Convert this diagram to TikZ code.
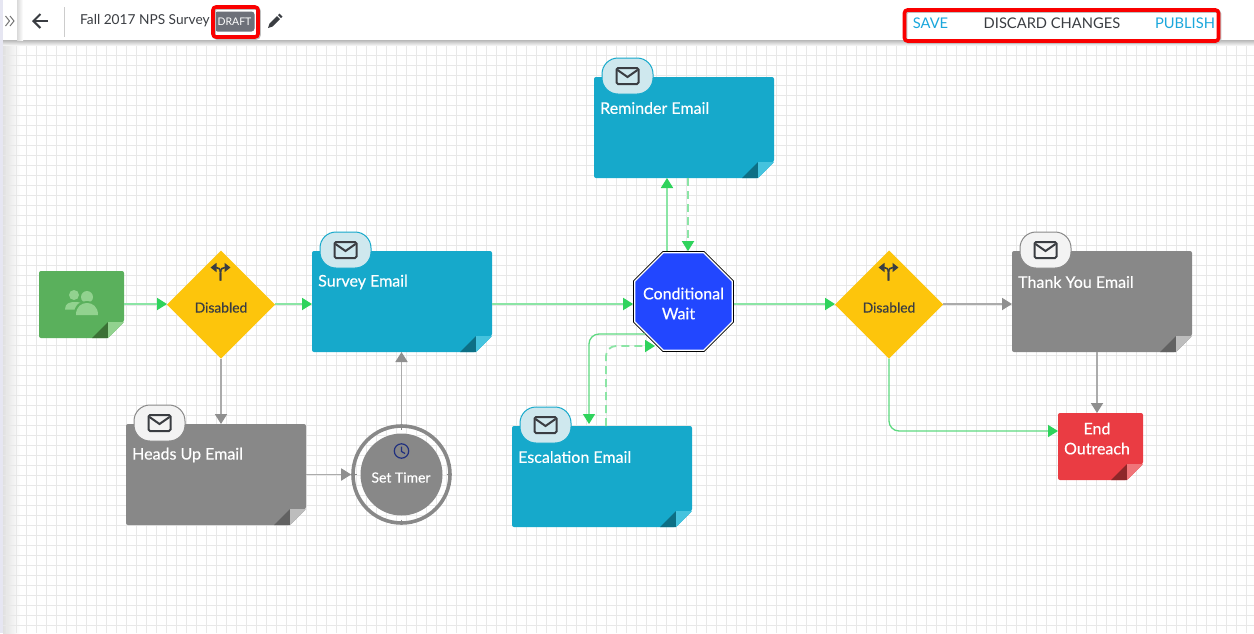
\documentclass[tikz,border=0pt]{standalone}
\usepackage{fontspec}
\setmainfont{Lato}
\newfontfamily\mediumfont[FakeBold=0.35]{Lato}
\usetikzlibrary{arrows.meta,shapes.geometric}

\definecolor{gridline}{HTML}{E8E8E8}
\definecolor{notecyan}{HTML}{16A9CB}
\definecolor{notecyandark}{HTML}{0D6F85}
\definecolor{notecyanlight}{HTML}{45C3DE}
\definecolor{notegray}{HTML}{888888}
\definecolor{notegraydark}{HTML}{626262}
\definecolor{notegraylight}{HTML}{BDBDBD}
\definecolor{notegreen}{HTML}{5AB05C}
\definecolor{notegreendark}{HTML}{3B7135}
\definecolor{notegreenlight}{HTML}{92D28F}
\definecolor{notered}{HTML}{EA3C43}
\definecolor{notereddark}{HTML}{8E2729}
\definecolor{noteredlight}{HTML}{F07579}
\definecolor{tabcyan}{HTML}{CFE8EE}
\definecolor{tabgray}{HTML}{F3F3F3}
\definecolor{gateyellow}{HTML}{FDC50C}
\definecolor{waitblue}{HTML}{2247FF}
\definecolor{clocknavy}{HTML}{20307F}
\definecolor{flowline}{HTML}{8BE5A5}
\definecolor{flowdark}{HTML}{5DD981}
\definecolor{flowtip}{HTML}{2FD35C}
\definecolor{idleline}{HTML}{ABABAB}
\definecolor{idletip}{HTML}{8F8F8F}
\definecolor{inkdark}{HTML}{3A3D42}
\definecolor{linkblue}{HTML}{1AA7DC}
\definecolor{draftgray}{HTML}{6D7079}
\definecolor{hilite}{HTML}{FA0000}

\tikzset{
    emailcard/.style={rectangle, minimum width=#1, inner sep=0pt, outer sep=0pt},
    cardtitle/.style={text=white, font=\mediumfont\fontsize{16}{16}\selectfont, anchor=west, inner sep=0pt},
    emailtab/.style={rectangle, rounded corners=16pt, minimum width=51pt, minimum height=36pt, line width=1pt},
    gate/.style={diamond, aspect=1, fill=gateyellow, minimum width=108pt, minimum height=108pt, inner sep=0pt, outer sep=0pt},
    flow/.style={line width=1.8pt, flowline, -{Triangle[length=10pt,width=12pt,color=flowtip]}},
    flowthin/.style={line width=1.3pt, flowdark, rounded corners=10pt, -{Triangle[length=10pt,width=12pt,color=flowtip]}},
    idle/.style={line width=1.8pt, idleline, -{Triangle[length=10pt,width=12pt,color=idletip]}},
    toolbar/.style={font=\fontsize{14.7}{14.7}\selectfont, inner sep=0pt},
    hilitebox/.style={draw=hilite, line width=3.6pt, rounded corners=3pt, fill=none,
        preaction={draw=black!25, transform canvas={xshift=1pt,yshift=-1pt}}},
    envelope/.pic={
        \draw[inkdark, line width=2pt, rounded corners=1.5pt] (-11,-8) rectangle (11,8);
        \draw[inkdark, line width=2pt] (-10,-6) -- (0,1) -- (10,-6);
    },
    fork/.pic={
        \draw[inkdark, line width=1.6pt, -{Triangle[length=6pt,width=9pt]}]
            (0,10) -- (0,3) .. controls (0,-2) and (-2,-3) .. (-10,-3);
        \draw[inkdark, line width=1.6pt, -{Triangle[length=6pt,width=9pt]}]
            (0,10) -- (0,3) .. controls (0,-2) and (2,-3) .. (10,-3);
    }
}

\begin{document}
\begin{tikzpicture}[x=1pt, y=-1pt]

    \useasboundingbox (0,0) rectangle (1254,633);
    \fill[white] (0,0) rectangle (1254,633);

    %----- CANVAS -----
    \shade[left color=black!12, right color=white] (3,44) rectangle (20,633);
    \fill[blue!30!gray!15] (0,0) rectangle (3,633);
    \foreach \gx in {6.7,16.7,...,1254}
        \draw[gridline, line width=1pt] (\gx,44) -- (\gx,633);
    \foreach \gy in {45.5,55.5,...,633}
        \draw[gridline, line width=1pt] (3,\gy) -- (1254,\gy);

    %----- TOP BAR -----
    \fill[white] (3,0) rectangle (1254,40);
    \shade[top color=black!28, bottom color=black!5] (3,40) rectangle (1254,45);
    \shade[left color=black!15, right color=white] (17,0) rectangle (23,40);
    \draw[black!55, line width=1pt] (5.5,16) -- (9.5,21) -- (5.5,26);
    \draw[black!55, line width=1pt] (10,16) -- (14,21) -- (10,26);
    \draw[inkdark, line width=2pt, -{Straight Barb[length=7pt,width=14pt]}] (48,21) -- (32,21);
    \draw[black!20, line width=1pt] (64,7) -- (64,37);

    \node[toolbar, anchor=west, text=inkdark, font=\fontsize{13.7}{13.7}\selectfont] (surveyname) at (80,21) {Fall 2017 NPS Survey};
    \node[fill=draftgray, text=white, rounded corners=3pt, minimum width=40pt, minimum height=20pt, inner sep=0pt, font=\fontsize{10.5}{10.5}\selectfont] (draft) at (234.5,21.5) {DRAFT};
    \node[hilitebox, minimum width=45pt, minimum height=30pt] (drafthilite) at (235.5,22) {};
    \fill[inkdark] (268,28) -- (269.5,23.5) -- (277,16) -- (280,19) -- (272.5,26.5) -- cycle;
    \fill[inkdark] (278,15) -- (279.5,13.5) -- (282.5,16.5) -- (281,18) -- cycle;

    \node[toolbar, text=linkblue] (save) at (930.5,23) {SAVE};
    \node[toolbar, text=inkdark] (discard) at (1052,23) {DISCARD CHANGES};
    \node[toolbar, text=linkblue] (publish) at (1185,23) {PUBLISH};
    \node[hilitebox, minimum width=314pt, minimum height=31pt] (actionhilite) at (1061.5,25.5) {};

    %----- NOTE CARDS WITH THE FOLDED CORNER -----
    \foreach \name/\cx/\cy/\cw/\ch/\body/\dark/\light in {
        start/81.5/304.5/85/67/notegreen/notegreendark/notegreenlight,
        reminder/684/127.5/180/101/notecyan/notecyandark/notecyanlight,
        survey/402/301.5/180/101/notecyan/notecyandark/notecyanlight,
        headsup/216/474.5/180/101/notegray/notegraydark/notegraylight,
        escalation/602/476.5/180/101/notecyan/notecyandark/notecyanlight,
        thankyou/1102/301.5/180/101/notegray/notegraydark/notegraylight,
        endcard/1100.5/446.5/85/67/notered/notereddark/noteredlight%
    } {
        \node[emailcard=\cw pt, minimum height=\ch pt] (\name) at (\cx,\cy) {};
        \fill[\body, rounded corners=2pt]
            (\name.north west) -- (\name.north east) -- ([yshift=16pt]\name.south east)
            -- ([xshift=-16pt]\name.south east) -- (\name.south west) -- cycle;
        \fill[\dark] ([xshift=-32pt]\name.south east) -- ([xshift=-16pt,yshift=16pt]\name.south east)
            -- ([xshift=-16pt]\name.south east) -- cycle;
        \fill[\light] ([xshift=-16pt,yshift=16pt]\name.south east) -- ([yshift=16pt]\name.south east)
            -- ([xshift=-16pt]\name.south east) -- cycle;
    }

    %----- TABS AND TITLES OF THE EMAIL CARDS -----
    \foreach \name/\title/\tabfill/\rim in {
        reminder/Reminder Email/tabcyan/notecyan,
        survey/Survey Email/tabcyan/notecyan,
        headsup/Heads Up Email/tabgray/notegray,
        escalation/Escalation Email/tabcyan/notecyan,
        thankyou/Thank You Email/tabgray/notegray%
    } {
        \node[emailtab, fill=\tabfill, draw=\rim] (\name-tab) at ([xshift=33.5pt,yshift=1pt]\name.north west) {};
        \pic at (\name-tab.center) {envelope};
        \node[cardtitle] (\name-title) at ([xshift=6pt,yshift=-31pt]\name.north west) {\title};
    }

    %----- PEOPLE ON THE START CARD -----
    \fill[notegreenlight] (74,295) circle (5);
    \fill[notegreenlight] (65,309.5) .. controls (65,303) and (70,302) .. (75,302) .. controls (80,302) and (85,303) .. (85,309.5) -- cycle;
    \fill[notegreen] (87,297) circle (7.5);
    \fill[notegreenlight] (87,297) circle (6);
    \fill[notegreen] (74,315) .. controls (74,304) and (81,301) .. (87,301) .. controls (93,301) and (100,304) .. (100,315) -- cycle;
    \fill[notegreenlight] (76,315) .. controls (76,306) and (82,303) .. (87,303) .. controls (92,303) and (98,306) .. (98,315) -- cycle;

    %----- GATES -----
    \foreach \name/\cx in {gatein/221, gateout/889} {
        \node[gate] (\name) at (\cx,304.5) {};
        \pic at ([yshift=34pt,xshift=-0.5pt]\name.center) {fork};
        \node[text=inkdark, font=\mediumfont\fontsize{13.8}{13.8}\selectfont, inner sep=0pt] (\name-label) at ([yshift=-3pt]\name.center) {Disabled};
    }

    %----- CONDITIONAL WAIT -----
    \node[regular polygon, regular polygon sides=8, fill=black, minimum size=109pt, inner sep=0pt, outer sep=0pt] (wait) at (683.5,301.5) {};
    \node[regular polygon, regular polygon sides=8, fill=white, minimum size=107pt, inner sep=0pt, outer sep=0pt] (waitrim) at (683.5,301.5) {};
    \node[regular polygon, regular polygon sides=8, fill=waitblue, minimum size=104pt, inner sep=0pt, outer sep=0pt] (waitface) at (683.5,301.5) {};
    \node[text=white, align=center, font=\mediumfont\fontsize{16}{20}\selectfont, inner sep=0pt] (waitlabel) at (683.5,303.5) {Conditional\\Wait\hspace*{10pt}};

    %----- SET TIMER -----
    \node[circle, draw=notegray, line width=3.6pt, minimum size=97pt, inner sep=0pt] (timer) at (401.5,474.5) {};
    \node[circle, fill=notegray, minimum size=82pt, inner sep=0pt] (timerface) at (401.5,474.5) {};
    \foreach \tick in {0,90,180,270}
        \draw[notegray, line width=1.5pt] (timer.center) ++(\tick:45) -- ++(\tick:3);
    \draw[clocknavy, line width=1.2pt] (401.5,451) circle (7.2);
    \draw[clocknavy, line width=1.2pt] (401.5,446.5) -- (401.5,451.5) -- (405,453.5);
    \node[text=white, font=\mediumfont\fontsize{14}{14}\selectfont, inner sep=0pt] (timerlabel) at (401,477.5) {Set Timer};

    %----- END CARD TEXT -----
    \node[text=white, align=center, font=\mediumfont\fontsize{16}{20}\selectfont, inner sep=0pt] (endlabel) at (1097,438.5) {End\\Outreach};

    %----- CONNECTORS -----
    \coordinate (mainline) at (0,304);
    \coordinate (upline) at (667,0);
    \coordinate (downline) at (688,0);
    \coordinate (waitout) at (645,334);
    \coordinate (waitin) at (655,346);
    \coordinate (escout) at (606,0);
    \coordinate (escin) at (589,0);
    \coordinate (endline) at (0,431);
    \coordinate (closeline) at (1097,0);

    \draw[flow] (start.east |- mainline) -- (gatein.west |- mainline);
    \draw[flow] (gatein.east |- mainline) -- (survey.west |- mainline);
    \draw[flow] (survey.east |- mainline) -- (wait.west |- mainline);
    \draw[flow] (wait.east |- mainline) -- (gateout.west |- mainline);
    \draw[idle] (gateout.east |- mainline) -- (thankyou.west |- mainline);

    \draw[idle] (gatein.south) -- (gatein.south |- headsup.north);
    \draw[idle] (headsup.east |- timer.west) -- (timer.west);
    \draw[idle] (timer.north) -- (timer.north |- survey.south);

    \draw[flow] (wait.north -| upline) -- (reminder.south -| upline);
    \draw[flow, dash pattern=on 8pt off 5pt] (reminder.south -| downline) -- (wait.north -| downline);

    \draw[flowthin] (waitout) -- (escin |- waitout) -- ([yshift=2pt]escalation.north -| escin);
    \draw[flowthin, flowline, line width=1.8pt, dash pattern=on 8pt off 5pt] (escalation.north -| escout) -- (escout |- waitin) -- (waitin);

    \draw[flowthin] (gateout.south) -- (gateout.south |- endline) -- (endcard.west |- endline);
    \draw[idle] (thankyou.south -| closeline) -- (endcard.north -| closeline);

\end{tikzpicture}
\end{document}
